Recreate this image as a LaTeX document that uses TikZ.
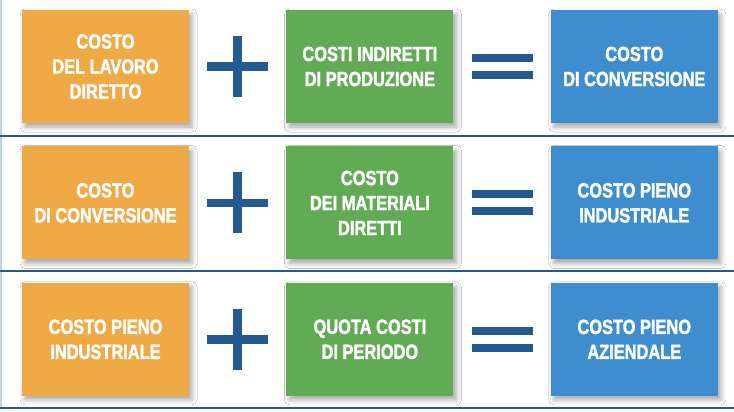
\documentclass[tikz,border=0pt]{standalone}
\usepackage{fontspec}
\setmainfont{Liberation Sans}[FakeStretch=0.8, BoldFeatures={FakeBold=1.8}]
\usetikzlibrary{positioning}
\usetikzlibrary{calc}
\usetikzlibrary{shadows.blur}

\definecolor{costorange}{HTML}{F0AA45}
\definecolor{costgreen}{HTML}{62AB55}
\definecolor{costblue}{HTML}{3E8ECF}
\definecolor{opblue}{HTML}{245A92}
\definecolor{edgeblue}{HTML}{BDD4E7}

\begin{document}
\begin{tikzpicture}[
      x=1pt, y=-1pt,
      node distance=23pt and 97pt,
      costbox/.style={minimum width=167pt, minimum height=113pt, inner sep=0pt,
        align=center, text=white, font=\fontsize{20.5}{25}\selectfont\bfseries,
        blur shadow={shadow xshift=3pt, shadow yshift=-4pt, shadow blur radius=5pt,
          shadow opacity=35}},
      orangebox/.style={costbox, fill=costorange},
      greenbox/.style={costbox, fill=costgreen},
      bluebox/.style={costbox, fill=costblue},
      rowline/.style={draw=opblue, line width=1.2pt},
      plussign/.pic={
          \fill[opblue] (-30.5,-4.25) rectangle (30.5,4.25);
          \fill[opblue] (-4.25,-30.5) rectangle (4.25,30.5);
      },
      equalsign/.pic={
          \fill[opblue] (-30.5,-12.5) rectangle (30.5,-4.5);
          \fill[opblue] (-30.5,4.5) rectangle (30.5,12.5);
      },
    ]
        \useasboundingbox (0,0) rectangle (734,412);
        \fill[white] (0,0) rectangle (734,412);

        % row 1
        \node[orangebox] (lavoro) at (105.5,66.5) {COSTO\\DEL LAVORO\\DIRETTO};
        \node[greenbox, right=of lavoro] (indiretti) {COSTI INDIRETTI\\DI PRODUZIONE};
        \node[bluebox, right=of indiretti] (conversione) {COSTO\\DI CONVERSIONE};

        % row 2
        \node[orangebox, below=of lavoro] (conversioneb) {COSTO\\DI CONVERSIONE};
        \node[greenbox, right=of conversioneb] (materiali) {COSTO\\DEI MATERIALI\\DIRETTI};
        \node[bluebox, right=of materiali] (industriale) {COSTO PIENO\\INDUSTRIALE};

        % row 3
        \node[orangebox, below=of conversioneb] (industrialeb) {COSTO PIENO\\INDUSTRIALE};
        \node[greenbox, right=of industrialeb] (periodo) {QUOTA COSTI\\DI PERIODO};
        \node[bluebox, right=of periodo] (aziendale) {COSTO PIENO\\AZIENDALE};

        \pic at ($(lavoro.east)!0.5!(indiretti.west)$) {plussign};
        \pic at ($(indiretti.east)!0.5!(conversione.west)$) {equalsign};
        \pic at ($(conversioneb.east)!0.5!(materiali.west)$) {plussign};
        \pic at ($(materiali.east)!0.5!(industriale.west)$) {equalsign};
        \pic at ($(industrialeb.east)!0.5!(periodo.west)$) {plussign};
        \pic at ($(periodo.east)!0.5!(aziendale.west)$) {equalsign};

        % separators
        \draw[edgeblue, line width=1.5pt] (1,0) -- (1,408);
        \draw[rowline] (0,136) -- (734,136);
        \draw[rowline] (0,271) -- (734,271);
        \draw[rowline] (0,408) -- (734,408);
    \end{tikzpicture}
\end{document}
